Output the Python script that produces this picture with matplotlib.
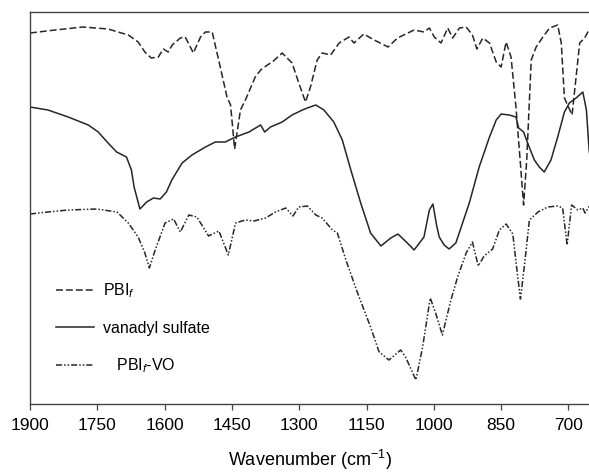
import numpy as np
import matplotlib
matplotlib.use('Agg')
import matplotlib.pyplot as plt

plt.rcParams['font.family'] = ['Liberation Sans', 'DejaVu Sans']
plt.rcParams['mathtext.fontset'] = 'custom'
plt.rcParams['mathtext.rm'] = 'Liberation Sans'
plt.rcParams['mathtext.it'] = 'Liberation Sans:italic'

# PBI_f (dashed) - wavenumber (cm-1) and transmittance (a.u.)
pbi_wn = [1900, 1844, 1782, 1726, 1681, 1659, 1644, 1630, 1614, 1603, 1592, 1583, 1565, 1554,
          1536, 1520, 1509, 1494, 1476, 1461, 1453, 1444, 1431, 1420, 1398, 1386, 1371, 1360,
          1338, 1316, 1301, 1286, 1275, 1260, 1249, 1230, 1211, 1189, 1178, 1156, 1133, 1102,
          1081, 1044, 1022, 1010, 999, 984, 969, 958, 943, 928, 914, 904, 891, 876, 861, 850,
          839, 828, 817, 806, 800, 793, 783, 772, 757, 742, 724, 716, 709, 692, 683, 675, 664, 652]
pbi_t = [371, 374, 377, 375, 369, 362, 352, 346, 347, 355, 352, 359, 366, 367,
         351, 367, 372, 372, 337, 307, 299, 255, 294, 304, 327, 334, 339, 342,
         351, 341, 321, 302, 317, 344, 351, 349, 361, 367, 361, 370, 364, 357,
         366, 374, 372, 376, 367, 361, 376, 366, 376, 377, 369, 355, 366, 361, 342, 337,
         362, 347, 297, 234, 199, 244, 344, 357, 367, 376, 379, 361, 306, 289, 327, 361, 366, 376]

# vanadyl sulfate (solid)
vos_wn = [1900, 1860, 1815, 1770, 1748, 1726, 1707, 1685, 1674, 1668, 1655, 1640, 1625, 1610,
          1596, 1584, 1561, 1539, 1509, 1487, 1465, 1442, 1412, 1386, 1377, 1364, 1338, 1316,
          1293, 1282, 1263, 1245, 1223, 1204, 1185, 1163, 1141, 1118, 1096, 1080, 1059, 1044,
          1022, 1010, 1002, 994, 988, 977, 966, 951, 936, 921, 899, 876, 861, 850, 832, 817,
          811, 800, 791, 776, 765, 754, 739, 724, 709, 698, 683, 668, 660, 654, 652]
vos_t = [297, 294, 287, 279, 272, 261, 252, 247, 234, 217, 195, 202, 206, 205,
         212, 224, 241, 249, 257, 262, 262, 267, 272, 279, 272, 277, 282, 289,
         294, 296, 299, 294, 282, 264, 234, 201, 171, 158, 166, 170, 161, 154,
         167, 194, 200, 179, 167, 159, 155, 161, 181, 201, 237, 267, 284, 290, 289, 287,
         276, 272, 261, 244, 237, 232, 244, 267, 292, 301, 306, 312, 294, 254, 248]

# PBI_f-VO (dash-dot-dot)
pvo_wn = [1900, 1860, 1815, 1751, 1706, 1681, 1659, 1644, 1634, 1621, 1599, 1580, 1565, 1546,
          1528, 1502, 1479, 1458, 1442, 1420, 1401, 1375, 1353, 1330, 1314, 1301, 1282, 1263,
          1249, 1226, 1215, 1196, 1170, 1141, 1122, 1100, 1074, 1063, 1040, 1025, 1008, 996,
          981, 962, 947, 928, 914, 901, 888, 869, 854, 839, 824, 813, 807, 798, 787, 768,
          746, 724, 713, 703, 693, 679, 668, 663, 652]
pvo_t = [190, 192, 194, 195, 192, 181, 167, 151, 136, 154, 181, 185, 172, 189,
         187, 168, 173, 149, 181, 184, 183, 186, 192, 196, 188, 197, 198, 189,
         186, 174, 171, 144, 111, 77, 52, 44, 54, 47, 24, 57, 106, 91,
         69, 104, 127, 151, 162, 138, 148, 155, 174, 180, 170, 127, 105, 139, 184, 192,
         197, 198, 196, 159, 199, 194, 196, 191, 199]

xticks = [1900, 1750, 1600, 1450, 1300, 1150, 1000, 850, 700]

fig = plt.figure(figsize=(5.89, 4.74), dpi=100)
ax = fig.add_axes([30 / 589, 70 / 474, 560 / 589, 392 / 474])

lc = '#262626'
l1, = ax.plot(pbi_wn, pbi_t, color=lc, lw=1.1, linestyle=(0, (4.5, 2)))
l2, = ax.plot(vos_wn, vos_t, color=lc, lw=1.1, linestyle='-')
l3, = ax.plot(pvo_wn, pvo_t, color=lc, lw=1.1, linestyle=(0, (4, 1.3, 1, 1.3, 1, 1.3)))

ax.set_xlim(1900, 652)
ax.set_ylim(0, 392)
ax.set_xticks(xticks)
ax.set_yticks([])
ax.tick_params(axis='x', direction='out', length=4, width=0.9, color='#444444',
               labelsize=12.5, pad=6)
for side in ['left', 'top', 'bottom']:
    ax.spines[side].set_color('#444444')
    ax.spines[side].set_linewidth(1.0)
ax.spines['right'].set_visible(False)
ax.set_xlabel('Wavenumber (cm$^{-1}$)', fontsize=13, labelpad=11)

ax.legend([l1, l2, l3], ['PBI$_{f}$', 'vanadyl sulfate', '   PBI$_{f}$-VO'],
          loc='upper left', bbox_to_anchor=(0.02, 0.35), frameon=False,
          fontsize=11.5, handlelength=2.4, labelspacing=1.3, handletextpad=0.6)

fig.savefig('out.png', dpi=100)
